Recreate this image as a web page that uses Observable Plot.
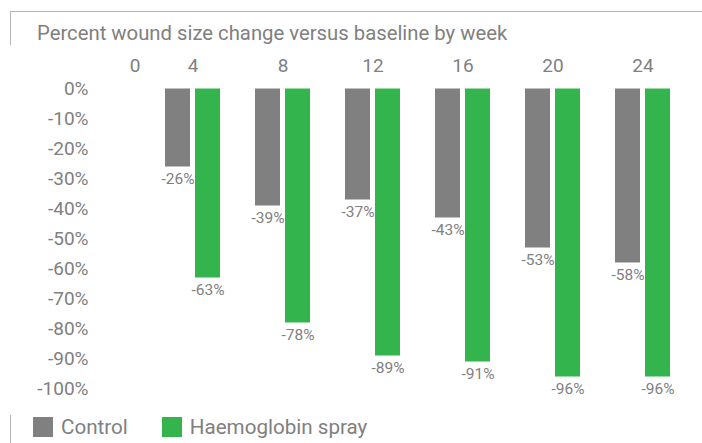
<!DOCTYPE html>
<html><head><meta charset="utf-8">
<script src="https://cdn.jsdelivr.net/npm/d3@7"></script>
<script src="https://cdn.jsdelivr.net/npm/@observablehq/plot@0.6"></script>
<style>
body{margin:0;background:#fff;font-family:Roboto,"Noto Sans",sans-serif;color:#808080;}
#wrap{position:relative;width:702px;height:443px;overflow:hidden;}
#frame{position:absolute;left:10px;top:11px;width:800px;height:500px;border-top:1.5px solid #b4b4b4;border-left:1.5px solid #b4b4b4;}
#title{position:absolute;left:37px;top:23px;font-size:20.3px;line-height:20px;white-space:nowrap;}
#chart{position:absolute;left:0;top:45px;}
#legend{position:absolute;left:33px;top:417px;display:flex;align-items:center;font-size:20.6px;line-height:20px;}
.item{display:flex;align-items:center;margin-right:34px;}
.sw{width:20px;height:20px;margin-right:8px;}
</style>
</head><body>
<div id="wrap">
<div id="frame"></div>
<div id="title"></div>
<div id="chart"></div>
<div id="legend"></div>
</div>
<script>
const titleText = "Percent wound size change versus baseline by week";
const weeks = ["0", "4", "8", "12", "16", "20", "24"];
const barWeeks = ["4", "8", "12", "16", "20", "24"];
const control = [-26, -39, -37, -43, -53, -58];
const haemoglobin = [-63, -78, -89, -91, -96, -96];
const yTicks = [0, -10, -20, -30, -40, -50, -60, -70, -80, -90, -100];
const seriesNames = ["Control", "Haemoglobin spray"];
const colors = ["#808080", "#34b44c"];
const textColor = "#808080";

document.getElementById("title").textContent = titleText;

const controlRows = barWeeks.map((w, i) => ({week: w, series: seriesNames[0], value: control[i]}));
const haemRows = barWeeks.map((w, i) => ({week: w, series: seriesNames[1], value: haemoglobin[i]}));

const chart = Plot.plot({
  width: 702,
  height: 370,
  marginTop: 43.5,
  marginBottom: 26.5,
  marginLeft: 73.4,
  marginRight: 30,
  style: {fontFamily: "Roboto, 'Noto Sans', sans-serif", background: "white", overflow: "visible"},
  x: {type: "band", domain: weeks, paddingInner: 0.393, paddingOuter: 0},
  y: {domain: [-100, 0]},
  color: {domain: seriesNames, range: colors},
  marks: [
    Plot.barY(controlRows, {x: "week", y: "value", fill: "series", insetRight: 30}),
    Plot.barY(haemRows, {x: "week", y: "value", fill: "series", insetLeft: 30}),
    Plot.text(controlRows, {x: "week", y: "value", text: d => `${d.value}%`, dx: -15, dy: 12.5, fill: textColor, fontSize: 15.5}),
    Plot.text(haemRows, {x: "week", y: "value", text: d => `${d.value}%`, dx: 15, dy: 12.5, fill: textColor, fontSize: 15.5}),
    Plot.axisY(yTicks, {anchor: "left", tickSize: 0, tickPadding: 0, dx: 14.6, tickFormat: d => `${d}%`, fontSize: 19, color: textColor, label: null}),
    Plot.axisX(barWeeks, {anchor: "top", tickSize: 0, tickPadding: 17, fontSize: 19, color: textColor, label: null}),
    Plot.axisX(["0"], {anchor: "top", tickSize: 0, tickPadding: 17, dx: 32, fontSize: 19, color: textColor, label: null})
  ]
});
document.getElementById("chart").appendChild(chart);

const legend = document.getElementById("legend");
seriesNames.forEach((name, i) => {
  const item = document.createElement("div");
  item.className = "item";
  const sw = document.createElement("div");
  sw.className = "sw";
  sw.style.background = colors[i];
  const label = document.createElement("span");
  label.textContent = name;
  item.appendChild(sw);
  item.appendChild(label);
  legend.appendChild(item);
});
</script>
</body></html>
